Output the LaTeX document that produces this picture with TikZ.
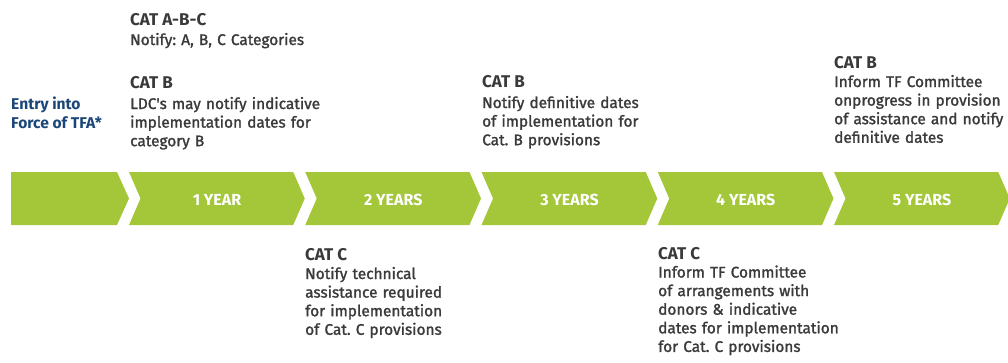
\documentclass[tikz,border=0pt]{standalone}
\usepackage{fontspec}
\setmainfont{Fira Sans}
\newfontfamily\medfont{Fira Sans}[FakeBold=1.5]
\usepackage{tikz}
\usetikzlibrary{positioning}
\frenchspacing

\definecolor{barGreen}{RGB}{164,199,58}
\definecolor{txtGray}{RGB}{58,58,58}
\definecolor{tfaBlue}{RGB}{27,71,120}

\tikzset{
	cathead/.style={anchor=base west,inner sep=0pt,color=txtGray,font=\fontsize{17}{20}\selectfont\bfseries},
	catbody/.style={anchor=base west,inner sep=0pt,color=txtGray,text width=220pt,align=left,font=\fontsize{15.4}{18.6}\selectfont\medfont},
	yearlabel/.style={anchor=base,inner sep=0pt,color=white,font=\fontsize{16}{18}\selectfont\bfseries}
}

\begin{document}
\begin{tikzpicture}[x=1pt,y=-1pt]
	\useasboundingbox (0,0) rectangle (1008,362);
	% timeline bar, first block is flat on the left
	\fill [barGreen] (11,172) -- (117,172) -- (129,198.5) -- (117,225) -- (11,225) -- cycle;
	\foreach \i/\lab [evaluate=\i as \L using 129+176.25*(\i-1)] in {1/1 YEAR,2/2 YEARS,3/3 YEARS,4/4 YEARS,5/5 YEARS} {
		\fill [barGreen] (\L,172) -- ++(164.25,0) -- ++(11.5,26.5) -- ++(-11.5,26.5) -- ++(-164.25,0) -- ++(11.5,-26.5) -- cycle;
		\node [yearlabel] (yr\i) at (\L+88,205) {\lab};
	}

	\node [anchor=base west,inner sep=0pt,color=tfaBlue,align=left,font=\fontsize{15.6}{18.6}\selectfont\bfseries] (entry) at (11,128) {Entry into\\Force of TFA*};

	% notifications above the bar
	\node [cathead] (catABC) at (130,25) {CAT A-B-C};
	\node [catbody] (catABCtxt) at ([yshift=-20pt]catABC.base west) {Notify: A, B, C Categories};
	\node [cathead] (catB1) at (130,88) {CAT B};
	\node [catbody] (catB1txt) at ([yshift=-21pt]catB1.base west) {LDC's may notify indicative\\implementation dates for\\category B};
	\node [cathead] (catB2) at (482,87) {CAT B};
	\node [catbody] (catB2txt) at ([yshift=-21pt]catB2.base west) {Notify definitive dates\\of implementation for\\Cat. B provisions};
	\node [cathead] (catB3) at (834,68) {CAT B};
	\node [catbody] (catB3txt) at ([yshift=-19pt]catB3.base west) {Inform TF Committee\\onprogress in provision\\of assistance and notify\\definitive dates};

	% notifications below the bar
	\node [cathead] (catC1) at (305,260) {CAT C};
	\node [catbody] (catC1txt) at ([yshift=-19pt]catC1.base west) {Notify technical\\assistance required\\for implementation\\of Cat. C provisions};
	\node [cathead] (catC2) at (658,259) {CAT C};
	\node [catbody] (catC2txt) at ([yshift=-18.5pt]catC2.base west) {Inform TF Committee\\of arrangements with\\donors \& indicative\\dates for implementation\\for Cat. C provisions};
\end{tikzpicture}
\end{document}
